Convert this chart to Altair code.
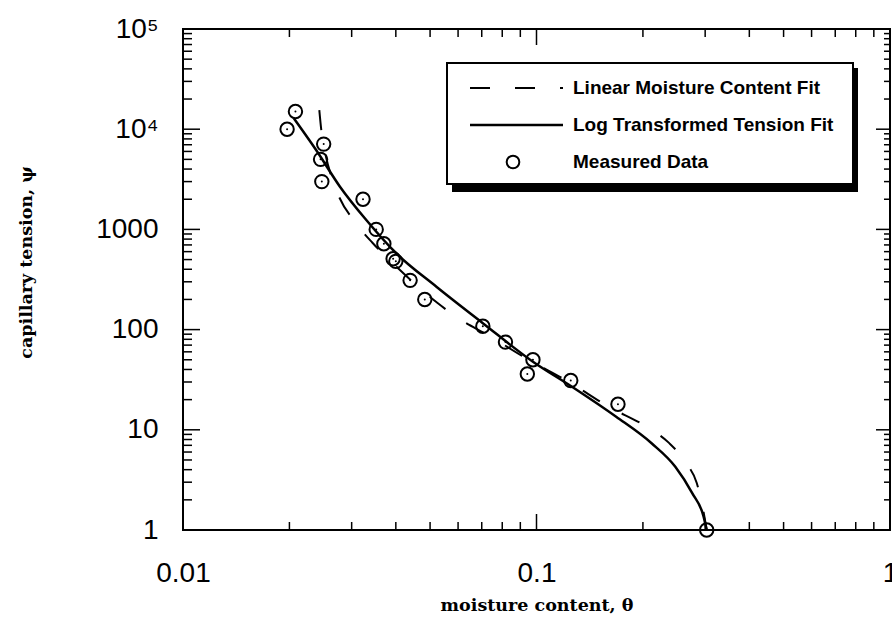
import altair as alt
import pandas as pd

# ---- measured data (moisture content theta, capillary tension psi) ----
meas_theta = [0.0197, 0.0208, 0.0245, 0.0247, 0.0250, 0.0323, 0.0352, 0.0370,
              0.0393, 0.0400, 0.0439, 0.0483, 0.0705, 0.0817, 0.0942, 0.0977,
              0.125, 0.170, 0.303]
meas_psi = [10000, 15000, 5000, 3000, 7100, 2000, 1000, 720,
            510, 480, 310, 200, 108, 75, 36, 50,
            31, 18, 1]

# ---- log transformed tension fit (solid) ----
log_theta = [0.0206, 0.0238, 0.0278, 0.0330, 0.0401, 0.0521, 0.0705, 0.0977,
             0.126, 0.168, 0.212, 0.247, 0.276, 0.297, 0.303]
log_psi = [12800, 6200, 2670, 1240, 578, 268, 116, 47.8,
           26.9, 13.5, 7.3, 4.28, 2.32, 1.36, 1.0]

# ---- linear moisture content fit (dashed) ----
lin_theta = [0.0243, 0.0246, 0.0252, 0.0269, 0.0311, 0.0344, 0.0400, 0.0525,
             0.0593, 0.0737, 0.0950, 0.1236, 0.160, 0.205, 0.237, 0.265,
             0.284, 0.296, 0.303]
lin_psi = [15500, 10000, 6000, 2700, 1110, 731, 430, 184,
           134, 86, 50, 30, 17, 10.7, 7.4, 4.66,
           2.94, 1.6, 1.0]

# ---- axes ----
x_domain = [0.01, 1]
y_domain = [1, 100000]
x_labels = [0.01, 0.1, 1]
y_labels = [1, 10, 100, 1000, 10000, 100000]
x_major_inner = [0.1]
y_major_inner = [10, 100, 1000, 10000]
x_minor = [k * m for m in (0.01, 0.1) for k in range(2, 10)]
y_minor = [k * m for m in (1, 10, 100, 1000, 10000) for k in range(2, 10)]

legend_labels = ["Linear Moisture Content Fit", "Log Transformed Tension Fit", "Measured Data"]

W, H = 707, 501

xs = alt.Scale(type="log", domain=x_domain)
ys = alt.Scale(type="log", domain=y_domain)

meas = pd.DataFrame({"theta": meas_theta, "psi": meas_psi})
logfit = pd.DataFrame({"theta": log_theta, "psi": log_psi, "o": range(len(log_theta))})
linfit = pd.DataFrame({"theta": lin_theta, "psi": lin_psi, "o": range(len(lin_theta))})

x_axis = alt.Axis(values=x_labels, format="~g", ticks=False, domain=False, grid=False,
                  labelFont="Liberation Sans", labelFontSize=28, labelColor="black",
                  labelPadding=29, labelFlush=False, labelOverlap=False,
                  title="moisture content, θ", titleFont="DejaVu Serif", titleFontSize=17.5,
                  titleFontWeight="bold", titleColor="black", titleY=75, titleBaseline="middle")
y_axis = alt.Axis(values=y_labels,
                  labelExpr="datum.value >= 50000 ? '10⁵' : datum.value >= 5000 ? '10⁴' : format(datum.value, 'd')",
                  ticks=False, domain=False, grid=False,
                  labelFont="Liberation Sans", labelFontSize=28, labelColor="black",
                  labelPadding=25, labelFlush=False, labelOverlap=False,
                  title="capillary tension, ψ", titleFont="DejaVu Serif", titleFontSize=17.5,
                  titleFontWeight="bold", titleColor="black", titleX=-157, titleY=233,
                  titleAngle=-90, titleBaseline="middle", titleAlign="center")

# solid fit carries the axes
solid = alt.Chart(logfit).mark_line(color="black", strokeWidth=2.5, interpolate="monotone").encode(
    x=alt.X("theta:Q", scale=xs, axis=x_axis),
    y=alt.Y("psi:Q", scale=ys, axis=y_axis),
    order="o:Q",
)
dashed = alt.Chart(linfit).mark_line(color="black", strokeWidth=2, strokeDash=[20, 25],
                                     interpolate="monotone").encode(
    x=alt.X("theta:Q", scale=xs), y=alt.Y("psi:Q", scale=ys), order="o:Q",
)
circles = alt.Chart(meas).mark_point(shape="circle", filled=False, color="black",
                                     strokeWidth=2, size=180, opacity=1).encode(
    x=alt.X("theta:Q", scale=xs), y=alt.Y("psi:Q", scale=ys),
)
dots = alt.Chart(meas).mark_point(shape="circle", filled=True, color="black", size=4, opacity=1).encode(
    x=alt.X("theta:Q", scale=xs), y=alt.Y("psi:Q", scale=ys),
)

# inward ticks
def xticks(vals, length):
    df = pd.DataFrame({"v": vals})
    bot = alt.Chart(df).mark_rule(color="black", strokeWidth=1.5).encode(
        x=alt.X("v:Q", scale=xs), y=alt.value(H), y2=alt.value(H - length))
    top = alt.Chart(df).mark_rule(color="black", strokeWidth=1.5).encode(
        x=alt.X("v:Q", scale=xs), y=alt.value(0), y2=alt.value(length))
    return [bot, top]

def yticks(vals, length, rlength):
    df = pd.DataFrame({"v": vals})
    left = alt.Chart(df).mark_rule(color="black", strokeWidth=1.5).encode(
        y=alt.Y("v:Q", scale=ys), x=alt.value(0), x2=alt.value(length))
    right = alt.Chart(df).mark_rule(color="black", strokeWidth=1.5).encode(
        y=alt.Y("v:Q", scale=ys), x=alt.value(W), x2=alt.value(W - rlength))
    return [left, right]

ticks = (xticks(x_major_inner, 16) + xticks(x_minor, 8)
         + yticks(y_major_inner, 17, 14) + yticks(y_minor, 9, 6))

# legend box
one = pd.DataFrame({"a": [0]})
shadow = alt.Chart(one).mark_rect(color="black").encode(
    x=alt.value(269), x2=alt.value(675), y=alt.value(39), y2=alt.value(163))
box = alt.Chart(one).mark_rect(fill="white", stroke="black", strokeWidth=2).encode(
    x=alt.value(264), x2=alt.value(670), y=alt.value(34), y2=alt.value(155))
leg_dash = alt.Chart(one).mark_rule(color="black", strokeWidth=2, strokeDash=[20, 25]).encode(
    x=alt.value(287), x2=alt.value(380), y=alt.value(59))
leg_solid = alt.Chart(one).mark_rule(color="black", strokeWidth=2.5).encode(
    x=alt.value(287), x2=alt.value(380), y=alt.value(96))
leg_circ = alt.Chart(one).mark_point(shape="circle", filled=False, color="black",
                                     strokeWidth=2, size=160, opacity=1).encode(
    x=alt.value(330), y=alt.value(133))
leg_texts = [
    alt.Chart(one).mark_text(align="left", baseline="middle", font="Liberation Sans",
                             fontWeight="bold", fontSize=19, color="black").encode(
        x=alt.value(390), y=alt.value(yy), text=alt.value(t))
    for t, yy in zip(legend_labels, [59, 96, 133])
]

chart = alt.layer(
    solid, dashed, circles, dots, *ticks, shadow, box, leg_dash, leg_solid, leg_circ, *leg_texts
).properties(
    width=W, height=H,
    padding={"left": 183, "top": 29, "right": 2, "bottom": 88},
    autosize=alt.AutoSizeParams(type="none"),
    background="white",
).configure_view(stroke="black", strokeWidth=2)

chart.save("out.html", embed_options={"renderer": "svg", "actions": False})
